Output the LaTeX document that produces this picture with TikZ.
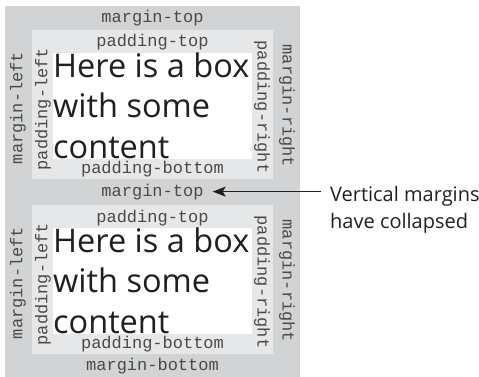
\documentclass[tikz,border=0pt]{standalone}
\usepackage{fontspec}
\setmainfont{Open Sans}
\newfontfamily\codefont{Liberation Mono}
\usetikzlibrary{arrows.meta}
\definecolor{margingray}{HTML}{D1D3D4}
\definecolor{paddinggray}{HTML}{E6E7E8}
\definecolor{labelgray}{HTML}{4A4A4A}
\definecolor{inkblack}{HTML}{231F20}
\tikzset{
  lbl/.style={font=\codefont\fontsize{17}{17}\selectfont,text=labelgray,inner sep=0pt,anchor=base},
  lblup/.style={lbl,anchor=center,rotate=90},
  lbldown/.style={lbl,anchor=center,rotate=-90},
  content/.style={font=\fontsize{32.5}{40.5}\selectfont,text=inkblack,inner sep=0pt,align=left,anchor=base west},
  note/.style={font=\fontsize{20}{26.5}\selectfont,text=inkblack,inner sep=0pt,align=left,anchor=base west},
  pointer/.style={-{Stealth[length=13pt,width=10pt,inset=3pt]},line width=1.4pt,inkblack,shorten <=9pt,shorten >=9pt}
}
\begin{document}
\begin{tikzpicture}[x=1pt,y=-1pt]
\useasboundingbox (0,0) rectangle (479,377);
\fill[margingray] (5,6) rectangle (300,377);
\foreach \off/\n in {0/a,175/b}{
  \fill[paddinggray] (32,30+\off) rectangle (273,179+\off);
  \fill[white] (53,53+\off) rectangle (252,159+\off);
  \node[content] (body\n) at (53,158+\off) {Here is a box\\with some\\content};
  \node[lbl] (ptop\n) at (152.5,47+\off) {padding-top};
  \node[lbl] (pbottom\n) at (152.5,173+\off) {padding-bottom};
  \node[lblup] (pleft\n) at (43,109+\off) {padding-left};
  \node[lblup] (mleft\n) at (18,108+\off) {margin-left};
  \node[lbldown] (pright\n) at (262,107+\off) {padding-right};
  \node[lbldown] (mright\n) at (287,106+\off) {margin-right};
}
\node[lbl] (mtop1) at (152.5,23) {margin-top};
\node[lbl] (mtop2) at (152.5,196) {margin-top};
\node[lbl] (mbottom) at (152.5,370) {margin-bottom};
\node[note] (note) at (330,228) {Vertical margins\\have collapsed};
\draw[pointer] (note.west |- mtop2) -- (mtop2.east);
\end{tikzpicture}
\end{document}
